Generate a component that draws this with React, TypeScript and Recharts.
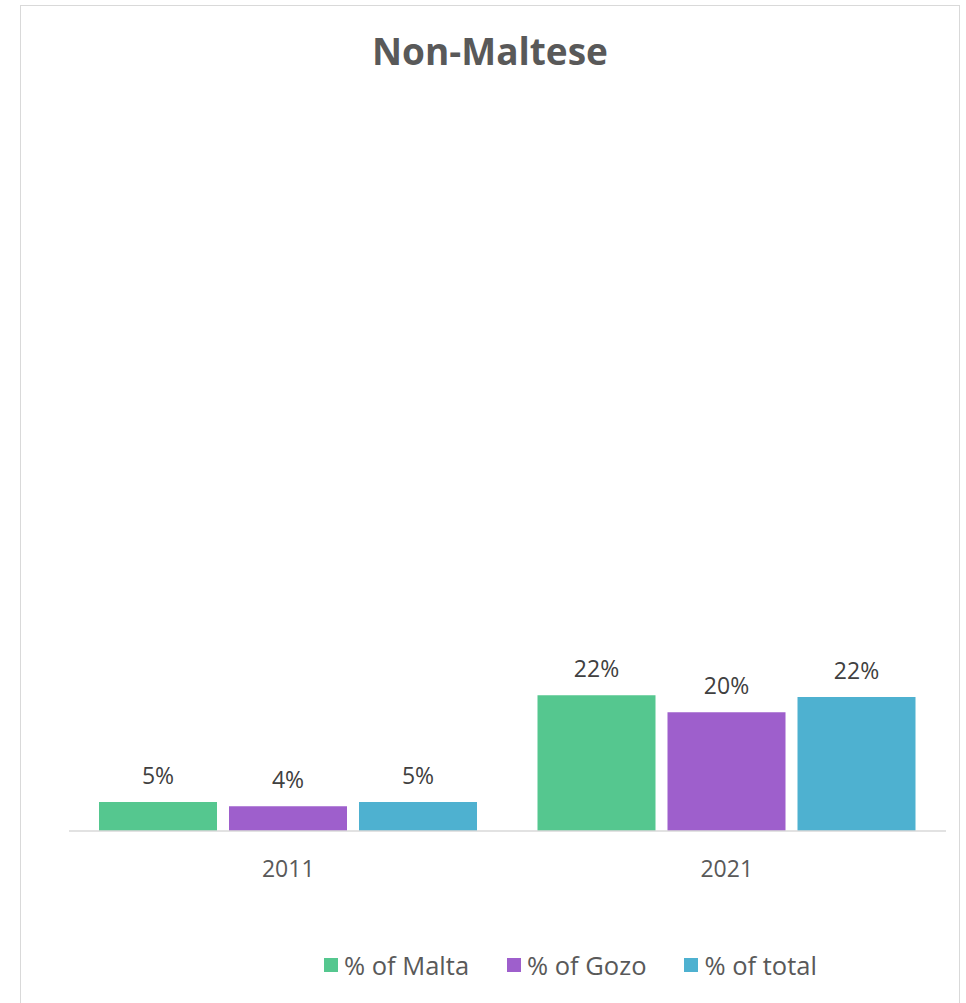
import { BarChart, Bar, XAxis, YAxis, LabelList, Legend } from "recharts";

const years = ["2011", "2021"];
const malta = [0.048, 0.224];
const gozo = [0.041, 0.196];
const total = [0.048, 0.221];

const SERIES = [
  { key: "malta", name: "% of Malta", color: "#55C78F" },
  { key: "gozo", name: "% of Gozo", color: "#9E5FCC" },
  { key: "total", name: "% of total", color: "#4EB1D0" },
];

const data = years.map((year, i) => ({ year, malta: malta[i], gozo: gozo[i], total: total[i] }));

const FONT = "'Open Sans', sans-serif";

const pct = (v: any) => `${Math.round(Number(v) * 100)}%`;

function LegendContent() {
  return (
    <div style={{ display: "flex", paddingLeft: 324, gap: 38, fontFamily: FONT, fontSize: 25.5, color: "#595959" }}>
      {SERIES.map((s) => (
        <div key={s.key} style={{ display: "flex", alignItems: "center" }}>
          <span style={{ width: 14, height: 14, background: s.color, display: "inline-block", marginRight: 6 }} />
          <span>{s.name}</span>
        </div>
      ))}
    </div>
  );
}

export default function App() {
  return (
    <div style={{ position: "absolute", left: 0, top: 0, width: 966, height: 1003, background: "#fff", overflow: "hidden" }}>
      <div style={{ position: "absolute", left: 20, top: 5, width: 938, height: 1010, border: "1.5px solid #D9D9D9" }} />
      <div
        style={{
          position: "absolute",
          top: 25,
          left: 7,
          width: 966,
          textAlign: "center",
          fontFamily: FONT,
          fontWeight: 700,
          fontSize: 37,
          color: "#595959",
        }}
      >
        Non-Maltese
      </div>
      <div style={{ position: "absolute", left: 0, top: 0 }}>
        <BarChart
          width={966}
          height={1003}
          data={data}
          margin={{ top: 104, right: 20, bottom: 108, left: 69 }}
          barCategoryGap={30}
          barGap={12}
        >
          <XAxis
            dataKey="year"
            axisLine={{ stroke: "#D9D9D9", strokeWidth: 1.5 }}
            tickLine={false}
            tickSize={0}
            tickMargin={30}
            tick={{ fill: "#595959", fontSize: 23, fontFamily: FONT }}
          />
          <YAxis hide domain={[0, 1.2]} />
          <Legend
            content={<LegendContent />}
            wrapperStyle={{ position: "absolute", top: 948, left: 0, width: 966, bottom: "auto" }}
          />
          {SERIES.map((s) => (
            <Bar key={s.key} dataKey={s.key} name={s.name} fill={s.color} isAnimationActive={false}>
              <LabelList
                dataKey={s.key}
                position="top"
                offset={18}
                formatter={pct}
                style={{ fill: "#404040", fontSize: 23, fontFamily: FONT }}
              />
            </Bar>
          ))}
        </BarChart>
      </div>
    </div>
  );
}
